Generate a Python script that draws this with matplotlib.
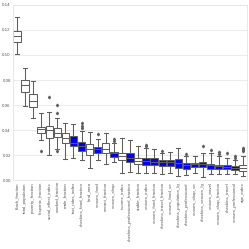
import matplotlib
matplotlib.use("Agg")
import matplotlib.pyplot as plt

# feature importance spread per feature
features = ['black_fraction', 'total_population', 'poverty_fraction', 'hispanic_fraction',
            'social_effect_index', 'worked_fraction', 'male_fraction', 'taxi_rides_index',
            'checkins_food_fraction', 'land_area', 'venues_food', 'vacant_fraction',
            'venues_shop', 'income_index', 'checkins_professional_fraction', 'stable_fraction',
            'venues_index', 'venues_food_fraction', 'checkins_travel_fraction', 'venues_food_se',
            'checkins_population_lg', 'checkins_professional', 'venues_shop_se',
            'checkins_venues_lg', 'venues_travel', 'venues_shop_fraction', 'checkins_travel',
            'venues_professional', 'age_index']

whislo = [0.1005, 0.0592, 0.0493, 0.0320, 0.0200, 0.0245, 0.0168, 0.0173,
          0.0160, 0.0095, 0.0160, 0.0128, 0.0147, 0.0060, 0.0067, 0.0060,
          0.0053, 0.0060, 0.0048, 0.0053, 0.0030, 0.0043, 0.0060,
          0.0027, 0.0048, 0.0048, 0.0048, 0.0048, 0.0035]
q1 = [0.1100, 0.0707, 0.0587, 0.0376, 0.0336, 0.0347, 0.0296, 0.0275,
      0.0235, 0.0200, 0.0213, 0.0213, 0.0187, 0.0160, 0.0147, 0.0126,
      0.0123, 0.0120, 0.0115, 0.0115, 0.0093, 0.0088, 0.0101,
      0.0101, 0.0088, 0.0088, 0.0085, 0.0083, 0.0070]
med = [0.1155, 0.0758, 0.0633, 0.0408, 0.0400, 0.0376, 0.0336, 0.0300,
       0.0270, 0.0250, 0.0245, 0.0248, 0.0213, 0.0195, 0.0180, 0.0155,
       0.0150, 0.0141, 0.0147, 0.0141, 0.0133, 0.0120, 0.0125,
       0.0128, 0.0121, 0.0110, 0.0107, 0.0099, 0.0096]
q3 = [0.1195, 0.0797, 0.0686, 0.0427, 0.0435, 0.0416, 0.0373, 0.0350,
      0.0305, 0.0288, 0.0267, 0.0293, 0.0227, 0.0220, 0.0213, 0.0177,
      0.0180, 0.0173, 0.0163, 0.0160, 0.0168, 0.0136, 0.0133,
      0.0147, 0.0128, 0.0120, 0.0120, 0.0110, 0.0120]
whishi = [0.1306, 0.0893, 0.0792, 0.0536, 0.0547, 0.0493, 0.0459, 0.0448,
          0.0390, 0.0387, 0.0330, 0.0380, 0.0293, 0.0333, 0.0320, 0.0275,
          0.0253, 0.0248, 0.0220, 0.0227, 0.0253, 0.0190, 0.0190,
          0.0220, 0.0213, 0.0195, 0.0180, 0.0163, 0.0195]
fliers = [[], [], [], [0.023], [0.0665], [0.060, 0.0535, 0.023], [], [],
          [0.0453, 0.0435, 0.042], [], [0.0365], [], [0.0328, 0.031], [], [], [],
          [0.0283, 0.027], [], [0.0232], [], [], [0.0205], [],
          [0.0275], [0.0237], [0.0221, 0.0208], [0.0213], [0.019, 0.018],
          [0.0256, 0.0249, 0.0242, 0.0235]]
highlighted = ['taxi_rides_index', 'checkins_food_fraction', 'venues_food', 'venues_shop',
               'checkins_professional_fraction', 'venues_index', 'venues_food_fraction',
               'checkins_travel_fraction', 'venues_food_se', 'checkins_population_lg',
               'checkins_professional', 'venues_shop_se', 'checkins_venues_lg',
               'venues_travel', 'venues_shop_fraction', 'checkins_travel',
               'venues_professional']

stats = []
for i, name in enumerate(features):
    stats.append({'label': name, 'whislo': whislo[i], 'q1': q1[i], 'med': med[i],
                  'q3': q3[i], 'whishi': whishi[i], 'fliers': fliers[i]})

edge = '#5e5e5e'
lw = 0.75
fig = plt.figure(figsize=(2.49, 2.49), dpi=100)
ax = fig.add_axes([0.052, 0.277, 0.94, 0.703])

bp = ax.bxp(stats, widths=0.92, patch_artist=True, showfliers=True,
            boxprops=dict(edgecolor=edge, linewidth=lw),
            whiskerprops=dict(color=edge, linewidth=lw),
            capprops=dict(color=edge, linewidth=lw),
            medianprops=dict(color=edge, linewidth=lw),
            flierprops=dict(marker='d', markersize=1.4, markerfacecolor=edge,
                            markeredgecolor=edge, linestyle='none'))
for box, name in zip(bp['boxes'], features):
    box.set_facecolor('#0000ff' if name in highlighted else 'white')
for cap in bp['caps']:
    x = cap.get_xdata()
    c = (x[0] + x[1]) / 2
    cap.set_xdata([c - 0.25, c + 0.25])

ax.set_ylim(0, 0.14)
ax.set_xlim(0.5, len(features) + 0.5)
ax.set_yticks([0.00, 0.02, 0.04, 0.06, 0.08, 0.10, 0.12, 0.14])
ax.set_yticklabels(['0.00', '0.02', '0.04', '0.06', '0.08', '0.10', '0.12', '0.14'])
ax.set_xticks(range(1, len(features) + 1))
ax.set_xticklabels(features, rotation=90)
ax.tick_params(axis='both', length=0, pad=1.5, labelsize=3.2, labelcolor='#555555')
for lab in ax.get_xticklabels() + ax.get_yticklabels():
    lab.set_family('Liberation Sans')
ax.yaxis.grid(True, color='#e8e8e8', linewidth=0.6)
ax.set_axisbelow(True)
for s in ax.spines.values():
    s.set_color('#e4e4e4')
    s.set_linewidth(0.6)

fig.savefig('out.png', dpi=100, facecolor='white')
